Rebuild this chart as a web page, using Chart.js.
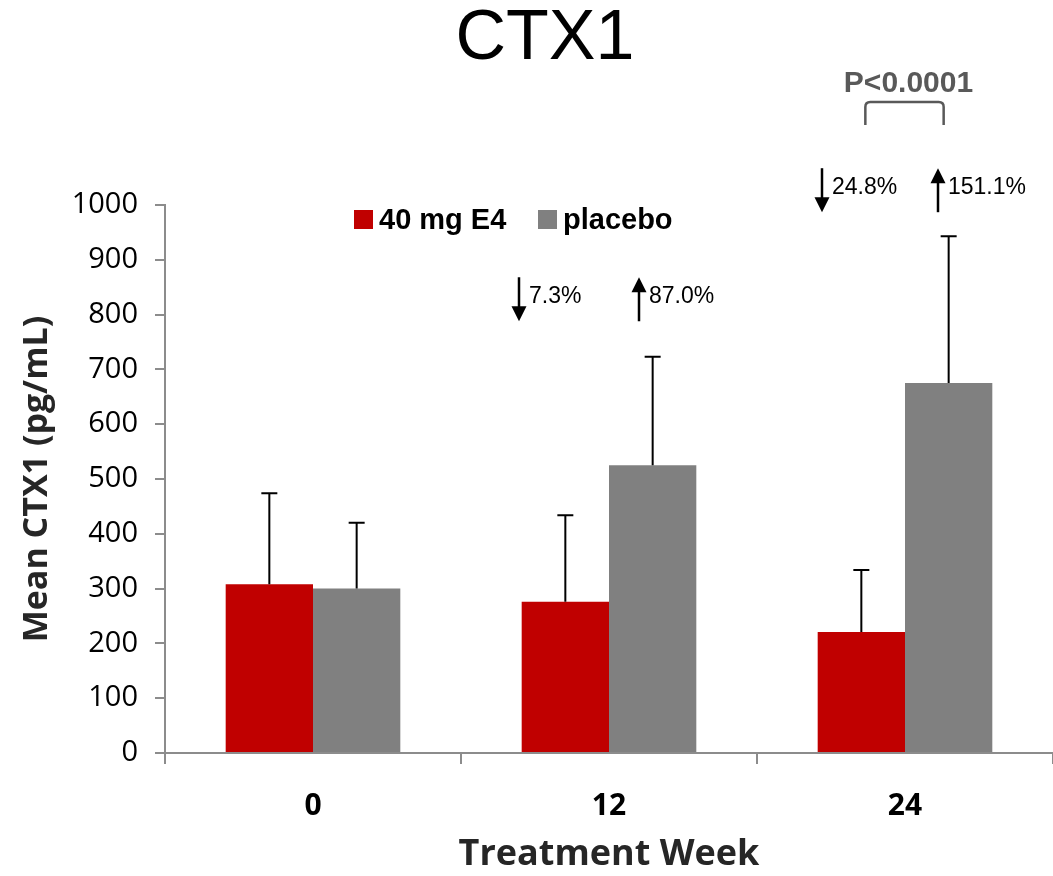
<!DOCTYPE html>
<html lang="en">
<head>
<meta charset="UTF-8">
<title>CTX1</title>
<script src="https://cdn.jsdelivr.net/npm/chart.js"></script>
<style>
  html, body { margin: 0; padding: 0; background: #fff; }
  #wrap { width: 1053px; height: 876px; position: relative; }
</style>
</head>
<body>
<div id="wrap"><canvas id="ctxChart"></canvas></div>
<script>
// data
const weeks = ['0', '12', '24'];
const e4Means = [308, 276, 221];
const e4Sd = [166, 158, 113];
const placeboMeans = [300, 525, 675];
const placeboSd = [120, 198, 268];
const e4Change = ['', '7.3%', '24.8%'];
const placeboChange = ['', '87.0%', '151.1%'];
const pValue = 'P<0.0001';

const RED = '#C00000';
const GREY = '#808080';
const AXIS = '#8c8c8c';

function drawArrow(ctx, x, yTop, yBot, up) {
    ctx.beginPath();
    if (up) {
        ctx.moveTo(x, yTop + 12);
        ctx.lineTo(x, yBot);
    } else {
        ctx.moveTo(x, yTop);
        ctx.lineTo(x, yBot - 12);
    }
    ctx.stroke();
    ctx.beginPath();
    if (up) {
        ctx.moveTo(x, yTop);
        ctx.lineTo(x - 7.5, yTop + 15);
        ctx.lineTo(x + 7.5, yTop + 15);
    } else {
        ctx.moveTo(x, yBot);
        ctx.lineTo(x - 7.5, yBot - 15);
        ctx.lineTo(x + 7.5, yBot - 15);
    }
    ctx.closePath();
    ctx.fill();
}

const extras = {
    id: 'extras',
    afterDatasetsDraw(chart) {
        const { ctx, scales: { x, y } } = chart;
        ctx.save();

        // error bars (upper only, with cap)
        ctx.strokeStyle = '#000';
        ctx.lineWidth = 2;
        [[0, e4Means, e4Sd], [1, placeboMeans, placeboSd]].forEach(([idx, means, sds]) => {
            chart.getDatasetMeta(idx).data.forEach((bar, i) => {
                const top = y.getPixelForValue(means[i] + sds[i]);
                ctx.beginPath();
                ctx.moveTo(bar.x, bar.y);
                ctx.lineTo(bar.x, top);
                ctx.moveTo(bar.x - 8, top);
                ctx.lineTo(bar.x + 8, top);
                ctx.stroke();
            });
        });

        // % change arrows
        const markY = [null, 828, 1027];
        const downOff = [0, -90, -83];
        const upOff = [0, 30, 33];
        ctx.fillStyle = '#000';
        ctx.lineWidth = 2.5;
        ctx.font = '23px "Liberation Sans", Arial, sans-serif';
        ctx.textBaseline = 'middle';
        ctx.textAlign = 'left';
        weeks.forEach((w, i) => {
            if (!e4Change[i]) return;
            const cx = x.getPixelForValue(i);
            const cy = y.getPixelForValue(markY[i]);
            const dx = cx + downOff[i];
            drawArrow(ctx, dx, cy - 22, cy + 22, false);
            ctx.fillText(e4Change[i], dx + 10, cy - 3);
            const ux = cx + upOff[i];
            drawArrow(ctx, ux, cy - 22, cy + 22, true);
            ctx.fillText(placeboChange[i], ux + 10, cy - 3);
        });

        // significance bracket over week 24
        const r = chart.getDatasetMeta(0).data[2];
        const g = chart.getDatasetMeta(1).data[2];
        const bl = r.x + 4, br = g.x - 5, bt = 102, bb = 125, rad = 5;
        ctx.strokeStyle = '#595959';
        ctx.lineWidth = 2.5;
        ctx.beginPath();
        ctx.moveTo(bl, bb);
        ctx.lineTo(bl, bt + rad);
        ctx.quadraticCurveTo(bl, bt, bl + rad, bt);
        ctx.lineTo(br - rad, bt);
        ctx.quadraticCurveTo(br, bt, br, bt + rad);
        ctx.lineTo(br, bb);
        ctx.stroke();
        ctx.fillStyle = '#595959';
        ctx.font = 'bold 30px "Liberation Sans", Arial, sans-serif';
        ctx.textAlign = 'center';
        ctx.fillText(pValue, (bl + br) / 2 + 4, 84);

        ctx.restore();
    },
    afterDraw(chart) {
        const { ctx } = chart;
        ctx.save();
        // title
        ctx.fillStyle = '#000';
        ctx.font = '70px "Liberation Sans", Arial, sans-serif';
        ctx.textAlign = 'center';
        ctx.textBaseline = 'middle';
        ctx.fillText('CTX1', 545, 40);

        // legend
        ctx.font = 'bold 29px "Liberation Sans", Arial, sans-serif';
        ctx.textAlign = 'left';
        ctx.textBaseline = 'alphabetic';
        chart.data.datasets.forEach((ds, i) => {
            const lx = [354, 538][i];
            ctx.fillStyle = ds.backgroundColor;
            ctx.fillRect(lx, 210, 19, 19);
            ctx.fillStyle = '#000';
            ctx.fillText(ds.label, lx + 25, 229);
        });
        ctx.restore();
    }
};

new Chart(document.getElementById('ctxChart'), {
    type: 'bar',
    data: {
        labels: weeks,
        datasets: [
            { label: '40 mg E4', data: e4Means, backgroundColor: RED, borderWidth: 0,
              categoryPercentage: 0.59, barPercentage: 1 },
            { label: 'placebo', data: placeboMeans, backgroundColor: GREY, borderWidth: 0,
              categoryPercentage: 0.59, barPercentage: 1 }
        ]
    },
    options: {
        responsive: true,
        maintainAspectRatio: false,
        animation: false,
        layout: { padding: { top: 205, right: 0, bottom: 0, left: 0 } },
        plugins: {
            legend: { display: false },
            title: { display: false },
            tooltip: { enabled: false }
        },
        scales: {
            x: {
                afterFit(scale) { scale.height = 123; },
                grid: { drawOnChartArea: false, drawTicks: true, tickLength: 11, color: AXIS, lineWidth: 2 },
                border: { display: true, color: AXIS, width: 2 },
                ticks: {
                    padding: 24,
                    color: '#000',
                    font: { family: '"Open Sans", sans-serif', size: 30, weight: 'bold' }
                },
                title: {
                    display: true,
                    text: 'Treatment Week',
                    color: '#262626',
                    padding: { top: 0, bottom: 0 },
                    font: { family: '"Open Sans", sans-serif', size: 36, weight: 'bold' }
                }
            },
            y: {
                min: 0,
                max: 1000,
                afterFit(scale) { scale.width = 165; },
                grid: { drawOnChartArea: false, drawTicks: true, tickLength: 10, color: AXIS, lineWidth: 2 },
                border: { display: true, color: AXIS, width: 2 },
                ticks: {
                    stepSize: 100,
                    padding: 17,
                    color: '#000',
                    callback: v => String(v),
                    font: { family: '"Open Sans", sans-serif', size: 29 }
                },
                title: {
                    display: true,
                    text: 'Mean CTX1 (pg/mL)',
                    color: '#262626',
                    padding: { top: 17, bottom: 0 },
                    font: { family: '"Open Sans", sans-serif', size: 34, weight: 'bold' }
                }
            }
        }
    },
    plugins: [extras]
});
</script>
</body>
</html>
